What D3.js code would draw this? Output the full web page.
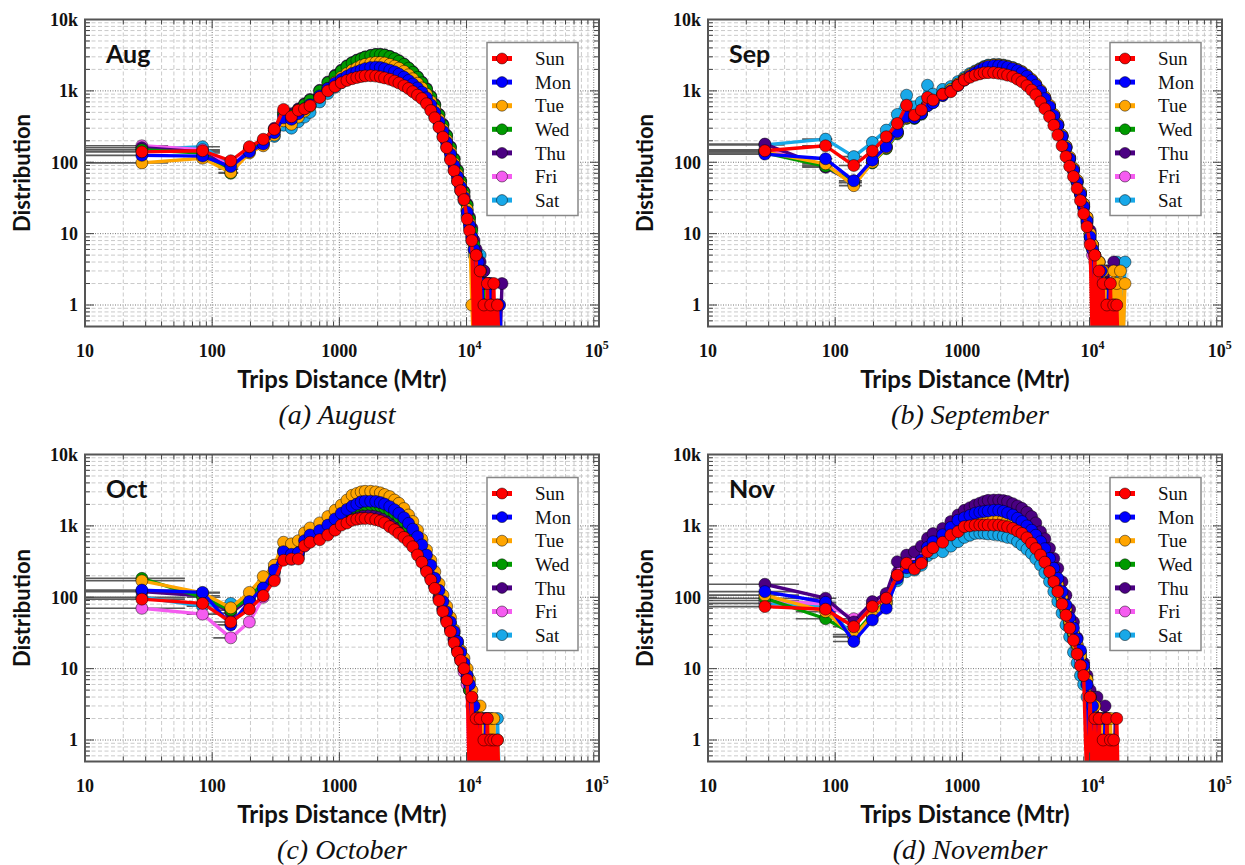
<!DOCTYPE html>
<html><head><meta charset="utf-8">
<script src="https://cdn.jsdelivr.net/npm/d3@7"></script>
<style>body{margin:0;background:#fff}svg{display:block}</style>
</head><body>
<svg id="c" width="1245" height="865"></svg>
<script>
const days = ['Sun','Mon','Tue','Wed','Thu','Fri','Sat'];
const colors = ['#ff0000','#0000ff','#ffa500','#009a00','#4b0082','#f55cf0','#18a8e8'];
const xTickValues = [10,100,1000,10000,100000];
const xTickLabels = [['10'],['100'],['1000'],['10','4'],['10','5']];
const yTickValues = [1,10,100,1000,10000];
const yTickLabels = ['1','10','100','1k','10k'];
// bin centres (m)
const X = [28,84,140,196,252,308,364,420,476,532,588,700,812,924,1036,1148,1260,1372,1484,1596,
1764,1932,2100,2268,2492,2716,2940,3220,3500,3780,4116,4452,4844,5236,5628,6076,6524,6972,7476,7980,
8484,8988,9548,10108,10556,11004,11452,11900,12348,12796,13244,13692,14140,14588,15036,15484,15932,16380,16828,17500,
18200,19000];
const N = null;
const aug = [
[140,145,105,165,210,290,550,435,535,560, 620,810,1000,1150,1300,1400,1480,1540,1590,1620, 1630,1610,1570,1520,1450,1370,1290,1180,1080,975, 870,780,660,530,420,310,225,160,108,76, 54,40,30,16,11,8,0,5,0,3, 0,1,0,2,0,1,0,2,0,1, 0,N],
[125,122,87,140,180,260,420,400,480,560, 640,850,1080,1280,1450,1600,1750,1850,1950,2050, 2120,2150,2120,2050,1950,1850,1720,1560,1400,1250, 1100,960,800,640,500,370,270,190,130,90, 63,45,32,20,13,9,6,0,4,0, 2,0,1,0,2,0,1,0,1,0, 1,0],
[98,114,72,135,170,240,380,340,430,520, 610,820,1080,1320,1550,1750,1950,2100,2250,2350, 2450,2500,2500,2450,2350,2220,2080,1880,1680,1480, 1280,1100,900,710,550,400,290,205,140,97, 68,48,34,22,14,1,0,5,0,3, 0,1,0,2,0,N,N,N,N,N, N,N],
[150,135,70,150,190,280,470,450,540,640, 740,1000,1300,1600,1900,2200,2450,2650,2800,2950, 3100,3200,3200,3150,3000,2820,2600,2350,2080,1820, 1550,1300,1050,820,630,460,330,235,160,110, 76,54,38,25,16,11,7,5,0,3, 0,2,0,1,0,1,0,N,N,N, N,N],
[160,140,80,150,195,300,500,480,560,660, 760,1020,1330,1650,1950,2250,2500,2700,2850,3000, 3150,3250,3250,3200,3050,2850,2650,2380,2100,1850, 1580,1330,1080,840,650,470,340,240,165,112, 78,55,39,26,17,12,8,6,0,4, 0,3,0,1,0,2,0,1,0,1, 0,2],
[170,150,85,155,190,280,460,430,520,600, 680,900,1150,1380,1580,1750,1900,2000,2080,2150, 2200,2230,2200,2150,2050,1950,1820,1650,1480,1320, 1160,1000,830,660,520,380,275,195,132,92, 64,46,33,21,14,9,6,4,0,2, 0,1,0,1,0,N,N,N,N,N, N,N],
[150,165,90,140,175,230,330,300,370,430, 500,700,920,1120,1300,1450,1580,1680,1750,1800, 1830,1840,1820,1780,1700,1600,1500,1370,1240,1100, 960,840,700,560,440,320,230,165,112,78, 55,40,29,18,12,8,5,4,0,5, 0,3,0,2,0,1,0,N,N,N, N,N]
];
const sep = [
[145,170,90,144,228,350,630,457,540,810, 745,900,975,1200,1420,1550,1660,1730,1790,1800, 1800,1760,1720,1660,1585,1460,1340,1180,1025,880, 700,560,435,330,240,170,120,88,63,43, 29,19,12.5,7,0,5,0,3,0,2, 0,1,0,2,0,1,0,1,0,N, N,N],
[130,112,55,107,165,268,435,420,480,620, 680,860,1000,1200,1420,1620,1800,1950,2100,2200, 2250,2250,2220,2150,2050,1930,1800,1600,1400,1200, 980,780,600,450,330,230,160,112,78,53, 36,24,15,9,6,0,2,0,3,0, 1,0,2,0,1,0,1,0,N,N, N,N],
[140,95,47,100,160,260,420,430,490,650, 720,900,1050,1250,1480,1680,1850,2000,2150,2250, 2300,2300,2260,2200,2100,1980,1850,1650,1450,1250, 1020,820,630,470,345,240,168,118,82,56, 38,26,17,10,7,5,0,4,0,3, 0,2,0,1,0,3,0,2,0,3, 0,2],
[135,88,52,98,155,250,410,410,470,620, 690,870,1020,1220,1450,1650,1820,1960,2100,2200, 2250,2250,2210,2140,2040,1920,1790,1590,1390,1190, 970,780,600,450,330,230,160,112,78,53, 36,24,15,9,6,4,0,3,0,2, 0,1,0,1,0,N,N,N,N,N, N,N],
[180,85,52,100,160,255,420,420,480,630, 700,880,1030,1230,1460,1660,1830,1980,2120,2220, 2270,2270,2230,2160,2060,1940,1810,1610,1410,1210, 990,800,615,460,340,238,166,116,81,55, 38,26,17,11,7,5,0,4,0,2, 0,3,0,1,0,4,0,1,0,N, N,N],
[150,90,55,105,170,270,440,430,490,640, 700,870,1010,1200,1420,1610,1780,1920,2050,2150, 2200,2200,2160,2100,2000,1880,1750,1560,1370,1170, 960,770,590,440,325,226,158,110,76,52, 35,23,14,8,5,0,2,0,1,0, N,N,N,N,N,N,N,N,N,N, N,N],
[175,211,120,190,282,468,870,600,700,1200, 900,1050,1150,1350,1550,1750,1900,2050,2200,2300, 2350,2350,2300,2230,2120,1990,1850,1640,1430,1220, 990,790,610,455,335,235,164,114,79,54, 37,25,16,10,7,5,0,4,0,2, 0,3,0,1,0,2,0,4,0,2, 0,4]
];
const oct = [
[94,82,45,68,105,170,330,343,343,525, 590,640,745,870,1025,1100,1200,1240,1270,1270, 1260,1220,1170,1100,975,880,785,690,600,510, 390,310,228,175,133,90,63,45,33,23, 17,13,10,7,0,4,0,2,0,2, 0,1,0,2,0,1,0,1,0,1, 0,N],
[126,117,41,87,135,240,435,400,420,620, 745,860,1025,1250,1500,1700,1880,2020,2180,2220, 2220,2200,2120,2020,1860,1680,1500,1300,1085,900, 705,540,390,280,184,125,87,62,45,33, 24,17,12,8,6,0,3,0,2,0, 1,0,2,0,1,0,1,0,N,N, N,N],
[170,115,71,117,195,282,590,560,620,800, 935,1100,1350,1650,1960,2300,2690,2850,3000,3050, 3050,3000,2900,2750,2570,2300,2070,1750,1420,1150, 870,650,460,330,228,155,107,75,52,35, 24,18,14,10,7,5,0,3,0,3, 0,2,0,1,0,2,0,2,0,1, 0,N],
[184,100,66,100,160,250,450,420,460,640, 760,880,1040,1250,1480,1650,1800,1900,1980,2000, 2000,1970,1900,1800,1650,1500,1330,1150,960,800, 630,490,360,260,175,120,85,60,43,31, 22,16,11,8,5,0,2,0,1,0, 2,0,N,N,N,N,N,N,N,N, N,N],
[120,105,60,95,150,230,400,380,410,580, 690,780,900,1050,1200,1300,1380,1430,1460,1470, 1460,1420,1360,1280,1150,1030,920,800,690,580, 450,350,260,195,145,100,70,50,37,26, 19,14,10,7,5,0,2,0,1,0, N,N,N,N,N,N,N,N,N,N, N,N],
[70,58,27,45,100,180,340,340,360,520, 600,670,780,900,1050,1150,1250,1300,1330,1340, 1330,1300,1250,1180,1050,950,850,740,640,540, 420,330,245,185,140,95,66,48,35,25, 18,13,9,6,0,3,0,1,0,2, 0,N,N,N,N,N,N,N,N,N, N,N],
[100,75,82,90,140,220,380,370,400,570, 680,760,880,1020,1180,1280,1360,1410,1440,1450, 1440,1400,1340,1260,1130,1010,900,780,680,570, 440,340,255,190,142,98,68,49,36,26, 19,14,10,7,5,4,0,2,0,2, 0,1,0,2,0,2,0,1,0,2, 0,N]
];
const nov = [
[74,68,38.6,74,97,204,299,248,299,435, 495,590,745,830,975,1000,1025,1030,1030,1030, 1025,1025,1000,970,920,850,785,680,570,480, 390,310,228,165,120,80,56,37,25,16, 11,8,0,4,0,2,0,2,0,1, 0,2,0,1,0,1,0,2,0,N, N,N],
[120,85,24,48,70,184,260,270,330,500, 600,750,950,1200,1300,1400,1500,1560,1590,1620, 1650,1650,1600,1520,1420,1280,1150,1000,870,740, 600,480,350,255,184,120,78,52,37,26, 18,11,6,0,3,0,2,0,1,0, 2,0,1,0,N,N,N,N,N,N, N,N],
[107,63,28,55,85,200,280,270,320,470, 560,680,820,950,1080,1150,1200,1230,1250,1260, 1260,1250,1220,1180,1120,1030,940,820,700,590, 480,380,280,205,150,100,68,46,32,22, 15,10,7,4,0,3,0,2,0,2, 0,1,0,2,0,N,N,N,N,N, N,N],
[97,50,30,58,88,190,275,270,320,470, 560,670,800,920,1050,1120,1170,1200,1220,1230, 1230,1220,1190,1150,1090,1000,920,800,690,580, 470,370,275,200,146,98,66,45,31,21, 15,10,7,4,0,2,0,1,0,N, N,N,N,N,N,N,N,N,N,N, N,N],
[152,97,45,87,113,315,390,435,520,670, 780,920,1150,1420,1650,1800,1960,2080,2200,2280, 2300,2300,2260,2200,2050,1900,1760,1550,1350,1100, 830,660,485,350,254,165,107,68,45,27, 17,12,8,5,3,0,4,0,2,0, 3,0,2,0,1,0,2,0,N,N, N,N],
[90,80,50,80,105,220,320,300,360,520, 620,760,920,1080,1200,1280,1330,1360,1380,1380, 1370,1350,1310,1260,1180,1080,980,850,720,600, 480,380,280,200,145,95,64,42,29,19, 13,9,6,3,0,2,0,1,0,N, N,N,N,N,N,N,N,N,N,N, N,N],
[82,75,28,55,80,170,228,240,280,380, 420,435,520,600,690,740,785,790,785,770, 760,745,720,690,670,600,540,470,410,345, 282,220,166,120,87,60,41,28,17,12, 8,6,4,0,3,0,2,0,1,0, 2,0,1,0,N,N,N,N,N,N, N,N]
];
// horizontal (distance) error bars of the first three bins: [low, high] in m
const errAug = [[5,45],[75,115],[112,160]];
const errSep = [[5,40],[55,95],[107,162]];
const errOct = [[5,61],[63,115],[102,155]];
const errNov = [[5,52],[49,102],[96,155]];

const panels = [
  {label:'Aug', caption:'(a) August', data:aug, err:errAug, left:85, top:19.5, capX:337, capY:424},
  {label:'Sep', caption:'(b) September', data:sep, err:errSep, left:708, top:19.5, capX:970, capY:424},
  {label:'Oct', caption:'(c) October', data:oct, err:errOct, left:85, top:454.5, capX:342, capY:859},
  {label:'Nov', caption:'(d) November', data:nov, err:errNov, left:708, top:454.5, capX:970, capY:859}
];
const W = 514, H = 307;
const serif = "'Liberation Serif','Times New Roman',serif";
const sans = "Lato,'Open Sans',sans-serif";
const svg = d3.select('#c');

const x = d3.scaleLog().domain([10, 1.1e5]).range([0, W]).clamp(true);
const y = d3.scaleLog().domain([0.5, 1e4]).range([H, 0]);
const yPos = v => v > 0 ? y(v) : H + 30;

const xAll = [], yAll = [];
for (let e = 1; e <= 5; e++) for (let m = 1; m <= 9; m++) { const v = m * Math.pow(10, e); if (v <= 1.1e5) xAll.push({v, major: m === 1}); }
for (let e = -1; e <= 4; e++) for (let m = 1; m <= 9; m++) { const v = m * Math.pow(10, e); if (v >= 0.5 && v <= 1e4) yAll.push({v, major: m === 1}); }

panels.forEach((p, pi) => {
  const g = svg.append('g').attr('transform', `translate(${p.left},${p.top})`);
  g.append('rect').attr('width', W).attr('height', H).attr('fill', '#fff');
  const grid = g.append('g');
  xAll.forEach(t => grid.append('line').attr('x1', x(t.v)).attr('x2', x(t.v)).attr('y1', 0).attr('y2', H)
    .attr('stroke', t.major ? '#777' : '#c4c4c4').attr('stroke-width', t.major ? 1 : 0.9)
    .attr('stroke-dasharray', t.major ? '1,1.5' : '4,2.5'));
  yAll.forEach(t => grid.append('line').attr('y1', y(t.v)).attr('y2', y(t.v)).attr('x1', 0).attr('x2', W)
    .attr('stroke', t.major ? '#777' : '#c4c4c4').attr('stroke-width', t.major ? 1 : 0.9)
    .attr('stroke-dasharray', t.major ? '1,1.5' : '4,2.5'));

  const clipId = 'clip' + pi;
  g.append('clipPath').attr('id', clipId).append('rect').attr('width', W).attr('height', H);
  const plot = g.append('g').attr('clip-path', `url(#${clipId})`);

  p.data.forEach(series => {
    p.err.forEach((e, i) => {
      const v = series[i];
      if (v == null || v <= 0) return;
      plot.append('line').attr('x1', x(e[0])).attr('x2', x(e[1])).attr('y1', y(v)).attr('y2', y(v))
        .attr('stroke', '#5a5a5a').attr('stroke-width', 1.6);
    });
  });

  const line = d3.line().defined(d => d[1] != null).x(d => x(d[0])).y(d => yPos(d[1]));
  for (let s = days.length - 1; s >= 0; s--) {
    const pts = X.map((xv, i) => [xv, p.data[s][i]]);
    plot.append('path').attr('d', line(pts)).attr('fill', 'none').attr('stroke', colors[s])
      .attr('stroke-width', 3.4).attr('stroke-linejoin', 'round');
    plot.append('g').selectAll('circle').data(pts.filter(d => d[1] != null && d[1] > 0)).join('circle')
      .attr('cx', d => x(d[0])).attr('cy', d => y(d[1])).attr('r', 6)
      .attr('fill', colors[s]).attr('stroke', 'rgba(0,0,0,0.6)').attr('stroke-width', 0.8);
  }

  const tk = g.append('g').attr('stroke', '#444').attr('stroke-width', 1);
  xAll.forEach(t => { const L = t.major ? 9 : 5, xx = x(t.v); if (xx >= W) return;
    tk.append('line').attr('x1', xx).attr('x2', xx).attr('y1', H).attr('y2', H - L);
    tk.append('line').attr('x1', xx).attr('x2', xx).attr('y1', 0).attr('y2', L); });
  yAll.forEach(t => { const L = t.major ? 9 : 5, yy = y(t.v);
    tk.append('line').attr('x1', 0).attr('x2', L).attr('y1', yy).attr('y2', yy);
    tk.append('line').attr('x1', W).attr('x2', W - L).attr('y1', yy).attr('y2', yy); });
  g.append('rect').attr('width', W).attr('height', H).attr('fill', 'none').attr('stroke', '#555').attr('stroke-width', 2);

  yTickValues.forEach((v, i) => g.append('text').attr('x', -7).attr('y', y(v)).attr('dy', '0.35em')
    .attr('text-anchor', 'end').attr('font-family', serif).attr('font-weight', 'bold').attr('font-size', 18)
    .attr('fill', '#111').text(yTickLabels[i]));
  xTickValues.forEach((v, i) => {
    const lab = xTickLabels[i];
    const t = g.append('text').attr('y', H + 30.5).attr('font-family', serif).attr('font-weight', 'bold')
      .attr('font-size', 18).attr('fill', '#111');
    if (lab.length === 1) t.attr('x', x(v)).attr('text-anchor', 'middle').text(lab[0]);
    else { t.attr('x', x(v) - 9).attr('text-anchor', 'start');
      t.append('tspan').text(lab[0]);
      t.append('tspan').attr('font-size', 12).attr('dy', -8).text(lab[1]); }
  });

  g.append('text').attr('x', W / 2).attr('y', H + 61).attr('text-anchor', 'middle')
    .attr('font-family', sans).attr('font-weight', 'bold').attr('font-size', 24).attr('fill', '#111')
    .text('Trips Distance (Mtr)');
  g.append('text').attr('transform', `translate(${-63},${H / 2}) rotate(-90)`).attr('text-anchor', 'middle')
    .attr('dy', '0.35em').attr('font-family', sans).attr('font-weight', 'bold').attr('font-size', 22)
    .attr('fill', '#111').text('Distribution');

  g.append('text').attr('x', 21).attr('y', 43).attr('font-family', sans).attr('font-weight', 'bold')
    .attr('font-size', 25).attr('fill', '#111').text(p.label);

  const lg = g.append('g').attr('transform', 'translate(402,23)');
  lg.append('rect').attr('width', 91).attr('height', 173).attr('fill', '#fff').attr('stroke', '#888').attr('stroke-width', 1.5);
  days.forEach((d, i) => {
    const yy = 16 + i * 23.6;
    lg.append('line').attr('x1', 5).attr('x2', 25).attr('y1', yy).attr('y2', yy).attr('stroke', colors[i]).attr('stroke-width', 5);
    lg.append('circle').attr('cx', 15).attr('cy', yy).attr('r', 5.5).attr('fill', colors[i]).attr('stroke', 'rgba(0,0,0,0.6)').attr('stroke-width', 0.8);
    lg.append('text').attr('x', 48).attr('y', yy).attr('dy', '0.35em').attr('font-family', serif)
      .attr('font-size', 19).attr('fill', '#111').text(d);
  });

  svg.append('text').attr('x', p.capX).attr('y', p.capY).attr('text-anchor', 'middle')
    .attr('font-family', serif).attr('font-style', 'italic').attr('font-size', 28).attr('fill', '#111').text(p.caption);
});
</script>
</body></html>
